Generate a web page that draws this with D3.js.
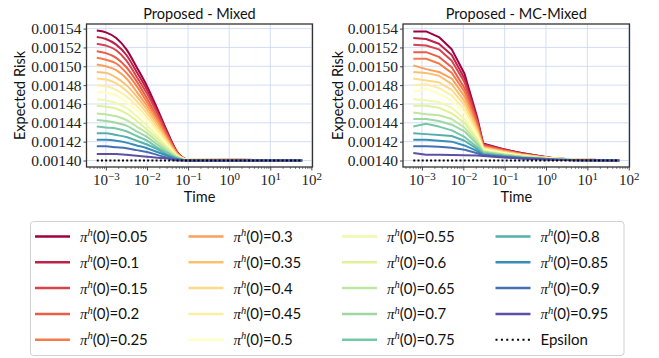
<!DOCTYPE html>
<html><head><meta charset="utf-8">
<script src="https://cdn.jsdelivr.net/npm/d3@7"></script>
<style>
body{margin:0;background:#fff;}
svg{display:block;}
.serif{font-family:"Liberation Serif","DejaVu Serif",serif;}
.sans{font-family:Lato,"DejaVu Sans",sans-serif;}
</style></head><body>
<svg id="chart" width="659" height="358"></svg>
<script>
// ---------------- data ----------------
const probLabels = ["0.05","0.1","0.15","0.2","0.25","0.3","0.35","0.4","0.45","0.5",
                    "0.55","0.6","0.65","0.7","0.75","0.8","0.85","0.9","0.95"];
const epsilonLabel = "Epsilon";
const epsilonRisk = 0.0014;
const titles = ["Proposed - Mixed", "Proposed - MC-Mixed"];
const xLabel = "Time";
const yLabel = "Expected Risk";
const yTickValues = [0.00140,0.00142,0.00144,0.00146,0.00148,0.00150,0.00152,0.00154];
const yTickLabels = ["0.00140","0.00142","0.00144","0.00146","0.00148","0.00150","0.00152","0.00154"];
const xTickExponents = [-3,-2,-1,0,1,2];

// time samples (left panel, smooth)
const timesMixed = [6.0e-4,1.0e-3,1.78e-3,3.16e-3,5.62e-3,1.0e-2,1.78e-2,3.16e-2,5.62e-2,1.0e-1,60];
// expected risk per pi^h(0), left panel
const riskMixed = [
 [0.001538,0.001536,0.001530,0.001518,0.001499,0.001479,0.001455,0.001430,0.001408,0.001401,0.001400],
 [0.001531,0.001529,0.001523,0.001512,0.001494,0.001475,0.001452,0.001429,0.001408,0.001401,0.001400],
 [0.001524,0.001522,0.001517,0.001506,0.001489,0.001471,0.001450,0.001427,0.001407,0.001401,0.001400],
 [0.001516,0.001514,0.001509,0.001499,0.001484,0.001466,0.001446,0.001426,0.001407,0.001401,0.001400],
 [0.001509,0.001507,0.001503,0.001493,0.001479,0.001462,0.001444,0.001424,0.001407,0.001401,0.001400],
 [0.001502,0.001500,0.001496,0.001487,0.001473,0.001458,0.001441,0.001422,0.001406,0.001401,0.001400],
 [0.001494,0.001493,0.001488,0.001480,0.001468,0.001454,0.001438,0.001421,0.001406,0.001401,0.001400],
 [0.001487,0.001486,0.001482,0.001474,0.001463,0.001450,0.001435,0.001419,0.001405,0.001401,0.001400],
 [0.001480,0.001479,0.001475,0.001468,0.001458,0.001446,0.001432,0.001418,0.001405,0.001401,0.001400],
 [0.001473,0.001472,0.001469,0.001462,0.001453,0.001442,0.001429,0.001416,0.001404,0.001401,0.001400],
 [0.001465,0.001464,0.001461,0.001456,0.001447,0.001437,0.001426,0.001414,0.001404,0.001400,0.001400],
 [0.001458,0.001457,0.001455,0.001450,0.001442,0.001433,0.001423,0.001413,0.001404,0.001400,0.001400],
 [0.001450,0.001449,0.001447,0.001443,0.001436,0.001429,0.001420,0.001411,0.001403,0.001400,0.001400],
 [0.001443,0.001442,0.001440,0.001437,0.001431,0.001425,0.001417,0.001409,0.001403,0.001400,0.001400],
 [0.001436,0.001435,0.001434,0.001431,0.001426,0.001421,0.001414,0.001408,0.001402,0.001400,0.001400],
 [0.001429,0.001429,0.001427,0.001425,0.001421,0.001417,0.001412,0.001406,0.001402,0.001400,0.001400],
 [0.001422,0.001422,0.001421,0.001419,0.001416,0.001413,0.001409,0.001405,0.001401,0.001400,0.001400],
 [0.001415,0.001415,0.001414,0.001413,0.001411,0.001409,0.001406,0.001403,0.001401,0.001400,0.001400],
 [0.001407,0.001407,0.001407,0.001406,0.001405,0.001404,0.001403,0.001402,0.001400,0.001400,0.001400]
];

// time samples (right panel, Monte-Carlo)
const timesMC = [6.17e-4,1.26e-3,2.57e-3,5.25e-3,1.07e-2,2.19e-2,3.02e-2,9.33e-2,0.251,0.631,1.585,5.01,58.9];
// expected risk per pi^h(0), right panel
const riskMC = [
 [0.001537,0.001537,0.001531,0.001518,0.001492,0.001445,0.001418,0.001412,0.001408,0.001405,0.0014025,0.001401,0.001400],
 [0.001530,0.001529,0.001524,0.001512,0.001487,0.001443,0.001417,0.001412,0.001408,0.001405,0.001402,0.001401,0.001400],
 [0.001523,0.001522,0.001518,0.001506,0.001483,0.001441,0.001417,0.001411,0.001407,0.001405,0.001402,0.001401,0.001400],
 [0.001515,0.001515,0.001510,0.001499,0.001477,0.001439,0.001416,0.001411,0.001407,0.001404,0.001402,0.001401,0.001400],
 [0.001508,0.001508,0.001503,0.001493,0.001473,0.001436,0.001415,0.001410,0.001407,0.001404,0.001402,0.001401,0.001400],
 [0.001501,0.001497,0.001494,0.001487,0.001468,0.001434,0.001414,0.001410,0.001406,0.001404,0.001402,0.001401,0.001400],
 [0.001494,0.001493,0.001490,0.001481,0.001463,0.001432,0.001414,0.001409,0.001406,0.001404,0.001402,0.001401,0.001400],
 [0.001487,0.001485,0.001483,0.001475,0.001459,0.001430,0.001413,0.001409,0.001406,0.001404,0.001402,0.001401,0.001400],
 [0.001480,0.001481,0.001477,0.001469,0.001454,0.001428,0.001412,0.001408,0.001405,0.001403,0.001402,0.001401,0.001400],
 [0.001473,0.001476,0.001471,0.001463,0.001450,0.001426,0.001412,0.001408,0.001405,0.001403,0.001402,0.001401,0.001400],
 [0.001465,0.001464,0.001462,0.001456,0.001444,0.001423,0.001411,0.001407,0.001405,0.001403,0.001402,0.001401,0.001400],
 [0.001458,0.001458,0.001456,0.001450,0.001440,0.001421,0.001410,0.001407,0.001404,0.001403,0.001401,0.0014005,0.001400],
 [0.001451,0.001449,0.001448,0.001444,0.001435,0.001419,0.001409,0.001406,0.001404,0.001403,0.001401,0.0014005,0.001400],
 [0.001444,0.001444,0.001442,0.001438,0.001431,0.001417,0.001409,0.001406,0.001404,0.001402,0.001401,0.0014005,0.001400],
 [0.001436,0.001439,0.001436,0.001432,0.001425,0.001414,0.001408,0.001405,0.001403,0.001402,0.001401,0.0014004,0.001400],
 [0.001429,0.001428,0.001427,0.001426,0.001421,0.001412,0.001407,0.001405,0.001403,0.001402,0.001401,0.0014004,0.001400],
 [0.001422,0.001422,0.001421,0.001420,0.001416,0.001410,0.001406,0.001404,0.001403,0.001402,0.001401,0.0014003,0.001400],
 [0.001415,0.001415,0.0014145,0.0014135,0.0014114,0.0014077,0.0014055,0.0014037,0.0014024,0.0014015,0.0014008,0.0014003,0.001400],
 [0.001408,0.001406,0.001406,0.0014058,0.0014055,0.0014052,0.0014048,0.0014032,0.0014021,0.0014013,0.0014007,0.0014003,0.001400]
];

// ---------------- drawing ----------------
const svg = d3.select("#chart");
const W = 659, H = 358;
svg.append("rect").attr("width", W).attr("height", H).attr("fill", "#fff");

const spectral = ["#9e0142","#d53e4f","#f46d43","#fdae61","#fee08b","#ffffbf",
                  "#e6f598","#abdda4","#66c2a5","#3288bd","#5e4fa2"];
const cmap = d3.scaleLinear().domain(d3.range(11).map(i => i / 10)).range(spectral)
  .interpolate(d3.interpolateRgb);
const colors = probLabels.map((_, i) => cmap(i / (probLabels.length - 1)));

const allRisk = riskMixed.flat().concat(riskMC.flat(), [epsilonRisk]);
const yMin = d3.min(allRisk), yMax = d3.max(allRisk), yPad = (yMax - yMin) * 0.05;

const panels = [
  {times: timesMixed, risk: riskMixed, title: titles[0], x0: 86.5, x1: 312.5, curve: d3.curveMonotoneX, ylabX: 20},
  {times: timesMC, risk: riskMC, title: titles[1], x0: 403, x1: 629.5, curve: d3.curveLinear, ylabX: 338}
];
const plotTop = 24, plotBottom = 167;
const gridColor = "#c8d6f2";
const spineColor = "#333";

panels.forEach((p, pi) => {
  const l0 = Math.log10(p.times[0]), l1 = Math.log10(p.times[p.times.length - 1]);
  const lp = (l1 - l0) * 0.05;
  const x = d3.scaleLog().domain([Math.pow(10, l0 - lp), Math.pow(10, l1 + lp)]).range([p.x0, p.x1]);
  const y = d3.scaleLinear().domain([yMin - yPad, yMax + yPad]).range([plotBottom, plotTop]);
  const g = svg.append("g");

  // grid
  const majors = xTickExponents.map(e => Math.pow(10, e)).filter(v => v >= x.domain()[0] && v <= x.domain()[1]);
  g.append("g").selectAll("line").data(majors).join("line")
    .attr("x1", d => x(d)).attr("x2", d => x(d)).attr("y1", plotTop).attr("y2", plotBottom)
    .attr("stroke", gridColor).attr("stroke-width", 0.8);
  g.append("g").selectAll("line").data(yTickValues).join("line")
    .attr("x1", p.x0).attr("x2", p.x1).attr("y1", d => y(d)).attr("y2", d => y(d))
    .attr("stroke", gridColor).attr("stroke-width", 0.8);

  // clip
  const cid = "clip" + pi;
  svg.append("clipPath").attr("id", cid).append("rect")
    .attr("x", p.x0).attr("y", plotTop).attr("width", p.x1 - p.x0).attr("height", plotBottom - plotTop);

  const line = d3.line().x(d => x(d[0])).y(d => y(d[1])).curve(p.curve);
  const lg = g.append("g").attr("clip-path", `url(#${cid})`);
  p.risk.forEach((series, si) => {
    lg.append("path").datum(series.map((v, k) => [p.times[k], v]))
      .attr("d", line).attr("fill", "none").attr("stroke", colors[si])
      .attr("stroke-width", 2).attr("stroke-linejoin", "round");
  });
  // epsilon
  lg.append("path").datum([[p.times[0], epsilonRisk], [p.times[p.times.length - 1], epsilonRisk]])
    .attr("d", d3.line().x(d => x(d[0])).y(d => y(d[1])))
    .attr("fill", "none").attr("stroke", "#000").attr("stroke-width", 2)
    .attr("stroke-dasharray", "2,2.2");

  // x axis: minor ticks
  const minors = [];
  for (let e = -4; e <= 2; e++) for (let m = 2; m <= 9; m++) {
    const v = m * Math.pow(10, e);
    if (v >= x.domain()[0] && v <= x.domain()[1]) minors.push(v);
  }
  const minorAxis = g.append("g").attr("transform", `translate(0,${plotBottom})`)
    .call(d3.axisBottom(x).tickValues(minors).tickSize(2).tickFormat(""));
  minorAxis.select(".domain").remove();
  minorAxis.selectAll("line").attr("stroke", spineColor).attr("stroke-width", 0.6);

  const xAxis = g.append("g").attr("transform", `translate(0,${plotBottom})`)
    .call(d3.axisBottom(x).tickValues(majors).tickSize(3.5).tickPadding(3.5).tickFormat(""));
  xAxis.attr("font-family", null).attr("font-size", null);
  xAxis.select(".domain").remove();
  xAxis.selectAll("line").attr("stroke", spineColor).attr("stroke-width", 0.9);
  xAxis.selectAll(".tick text").each(function(d) {
    const t = d3.select(this);
    const e = Math.round(Math.log10(d));
    t.text(null).attr("class", "serif").style("font-size", "15px").attr("fill", "#222");
    t.append("tspan").text("10");
    t.append("tspan").attr("dy", "-0.42em").style("font-size", "11px")
      .text(e < 0 ? "\u2212" + Math.abs(e) : String(e));
  });

  // y axis
  const yAxis = g.append("g").attr("transform", `translate(${p.x0},0)`)
    .call(d3.axisLeft(y).tickValues(yTickValues).tickSize(3).tickPadding(2)
      .tickFormat((d, i) => yTickLabels[i]));
  yAxis.attr("font-family", null).attr("font-size", null);
  yAxis.select(".domain").remove();
  yAxis.selectAll("line").attr("stroke", spineColor).attr("stroke-width", 0.9);
  yAxis.selectAll("text").attr("class", "serif").style("font-size", "15.5px").attr("fill", "#222");

  // spines
  g.append("rect").attr("x", p.x0).attr("y", plotTop).attr("width", p.x1 - p.x0).attr("height", plotBottom - plotTop)
    .attr("fill", "none").attr("stroke", spineColor).attr("stroke-width", 1.3);

  // labels
  g.append("text").attr("class", "sans").attr("x", (p.x0 + p.x1) / 2).attr("y", 19).attr("text-anchor", "middle")
    .style("font-size", "14.5px").attr("fill", "#111").text(p.title);
  g.append("text").attr("class", "sans").attr("x", (p.x0 + p.x1) / 2).attr("y", 202).attr("text-anchor", "middle")
    .style("font-size", "14.5px").attr("fill", "#111").text(xLabel);
  g.append("text").attr("class", "sans").attr("transform", `translate(${p.ylabX},${(plotTop + plotBottom) / 2}) rotate(-90)`)
    .attr("text-anchor", "middle").attr("dy", "0.35em")
    .style("font-size", "14.5px").attr("fill", "#111").text(yLabel);
});

// ---------------- legend ----------------
const leg = svg.append("g");
leg.append("rect").attr("x", 30.5).attr("y", 221.5).attr("width", 593.5).attr("height", 134)
  .attr("rx", 3).attr("fill", "#fff").attr("stroke", "#d0d0d0").attr("stroke-width", 1);
const legendItems = probLabels.map((lab, i) => ({lab, color: colors[i], eps: false}))
  .concat([{lab: epsilonLabel, color: "#000", eps: true}]);
const rowsPerCol = 5;
legendItems.forEach((it, i) => {
  const col = Math.floor(i / rowsPerCol), row = i % rowsPerCol;
  const lx = 35 + col * 153.5, ly = 236.5 + row * 25.8;
  const e = leg.append("g");
  e.append("line").attr("x1", lx).attr("x2", lx + 35).attr("y1", ly).attr("y2", ly)
    .attr("stroke", it.color).attr("stroke-width", it.eps ? 2 : 2.5)
    .attr("stroke-dasharray", it.eps ? "2,3.4" : null);
  const t = e.append("text").attr("class", "sans").attr("x", lx + 45).attr("y", ly).attr("dy", "0.36em")
    .style("font-size", "15px").attr("fill", "#111");
  if (it.eps) {
    t.text(it.lab);
  } else {
    t.append("tspan").attr("class", "serif").style("font-style", "italic").text("\u03c0");
    t.append("tspan").attr("class", "serif").style("font-style", "italic")
      .style("font-size", "10.5px").attr("dy", "-0.55em").text("h");
    t.append("tspan").attr("dy", "0.39em").text("(0)=" + it.lab);
  }
});
</script>
</body></html>
